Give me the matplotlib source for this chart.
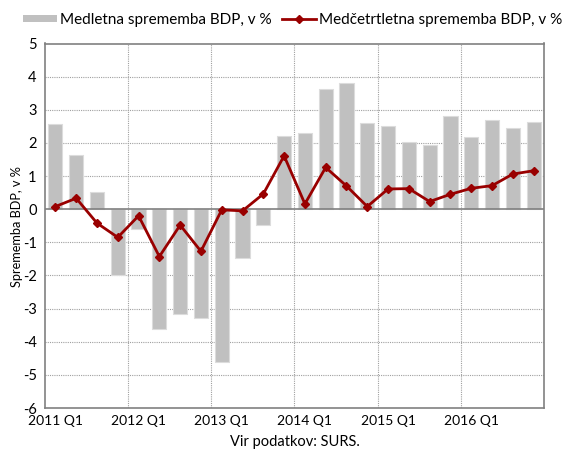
import matplotlib
matplotlib.use("Agg")
import matplotlib.pyplot as plt
from matplotlib.patches import Patch
from matplotlib.lines import Line2D

plt.rcParams['font.family'] = ['Lato', 'DejaVu Sans']

quarters = [f"{y} Q{q}" for y in range(2011, 2017) for q in range(1, 5)]
yoy = [2.56, 1.63, 0.53, -2.0, -0.60, -3.63, -3.16, -3.27,
       -4.61, -1.47, -0.47, 2.21, 2.31, 3.63, 3.80, 2.60,
       2.50, 2.02, 1.95, 2.81, 2.19, 2.69, 2.45, 2.62]
qoq = [0.08, 0.33, -0.42, -0.85, -0.20, -1.43, -0.48, -1.27,
       -0.02, -0.05, 0.46, 1.61, 0.16, 1.26, 0.70, 0.08,
       0.61, 0.62, 0.23, 0.45, 0.63, 0.71, 1.06, 1.16]
yticks = list(range(-6, 6))
xtick_labels = ["2011 Q1", "2012 Q1", "2013 Q1", "2014 Q1", "2015 Q1", "2016 Q1"]
legend_labels = ["Medletna sprememba BDP, v %", "Medčetrtletna sprememba BDP, v %"]

W, H = 566, 449
fig = plt.figure(figsize=(W / 100, H / 100), dpi=100)
ax = fig.add_axes([45 / W, 1 - 408 / H, (544 - 45) / W, (408 - 43.5) / H])

x = list(range(len(quarters)))
bar_color = '#c0c0c0'
line_color = '#990000'
ax.bar(x, yoy, width=0.68, color=bar_color, edgecolor='#dcdcdc', linewidth=0.8, zorder=2)
ax.plot(x, qoq, color=line_color, linewidth=2, marker='D', markersize=4.5, zorder=3)

ax.set_xlim(-0.5, len(quarters) - 0.5)
ax.set_ylim(-6, 5)
ax.set_yticks(yticks)
ax.set_yticklabels([str(v) for v in yticks], fontsize=10.5)
xt = [i for i, q in enumerate(quarters) if q.endswith("Q1")]
ax.set_xticks(xt)
ax.set_xticklabels(xtick_labels, fontsize=10)
ax.tick_params(length=0, pad=5)
ax.tick_params(axis='y', pad=6)

# grid
for yv in yticks:
    if yv not in (-6, 5, 0):
        ax.axhline(yv, color='#a0a0a0', linestyle=(0, (1, 1)), linewidth=0.8, zorder=1)
for xv in [3.5, 7.5, 11.5, 15.5, 19.5]:
    ax.axvline(xv, color='#a0a0a0', linestyle=(0, (1, 1)), linewidth=0.8, zorder=1)
ax.axhline(0, color='#808080', linewidth=1.2, zorder=2.5)
for s in ax.spines.values():
    s.set_color('#808080')
    s.set_linewidth(1.2)

fig.text(17 / W, 1 - 227 / H, "Sprememba BDP, v %", rotation=90, fontsize=9.2,
         ha='center', va='center')
fig.text(295 / W, 1 - 442 / H, "Vir podatkov: SURS.", fontsize=10.5, ha='center', va='center')

handles = [Patch(facecolor=bar_color, edgecolor='none'),
           Line2D([0], [0], color=line_color, linewidth=2, marker='D', markersize=4)]
fig.legend(handles, legend_labels, loc='center left', bbox_to_anchor=(23 / W, 1 - 20 / H),
           ncol=2, frameon=False, fontsize=11, handlelength=2.2, handleheight=0.35,
           handletextpad=0.2, columnspacing=0.7, borderaxespad=0, borderpad=0)

fig.savefig("out.png", dpi=100)
